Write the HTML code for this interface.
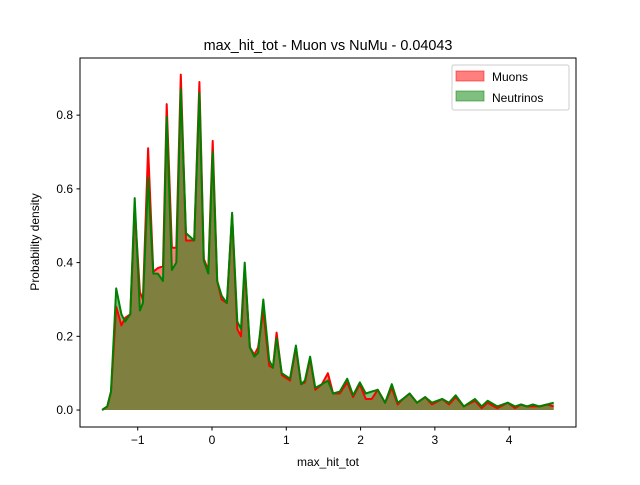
<!DOCTYPE html>
<html><head><meta charset="utf-8"><style>
body{margin:0;background:#fff}
svg{font-family:"Liberation Sans","DejaVu Sans",sans-serif}
</style></head><body>
<svg id="c" width="640" height="480" xmlns="http://www.w3.org/2000/svg"></svg>
<script>
const xs=[-1.48,-1.41,-1.36,-1.29,-1.22,-1.17,-1.10,-1.04,-0.97,-0.93,-0.86,-0.79,-0.73,-0.66,-0.61,-0.54,-0.48,-0.42,-0.35,-0.24,-0.17,-0.11,-0.05,0.01,0.07,0.13,0.20,0.27,0.34,0.39,0.44,0.51,0.57,0.62,0.69,0.77,0.82,0.87,0.94,1.05,1.13,1.20,1.25,1.32,1.39,1.48,1.56,1.63,1.72,1.82,1.90,1.99,2.07,2.15,2.23,2.33,2.42,2.50,2.57,2.66,2.76,2.87,2.96,3.10,3.19,3.28,3.39,3.54,3.63,3.71,3.84,3.98,4.08,4.16,4.24,4.32,4.41,4.51,4.60];
const muons=[0,.01,.05,.28,.23,.25,.26,.55,.32,.30,.71,.375,.385,.39,.83,.44,.44,.91,.46,.46,.89,.41,.38,.73,.35,.30,.29,.53,.22,.20,.39,.17,.15,.17,.27,.12,.115,.21,.095,.08,.17,.07,.075,.14,.055,.07,.10,.045,.045,.075,.035,.07,.03,.03,.055,.02,.06,.015,.03,.045,.02,.035,.015,.03,.015,.035,.01,.025,.005,.02,.005,.02,.005,.015,.01,.01,.01,.015,.01];
const neutrinos=[0,.01,.05,.33,.26,.24,.26,.575,.27,.29,.63,.37,.37,.35,.795,.38,.40,.87,.48,.46,.86,.405,.37,.70,.35,.31,.29,.535,.24,.22,.40,.17,.145,.155,.30,.135,.115,.195,.10,.085,.175,.07,.08,.145,.06,.07,.08,.045,.05,.085,.04,.075,.045,.05,.055,.02,.07,.02,.03,.045,.02,.035,.02,.03,.02,.04,.01,.03,.01,.025,.01,.02,.01,.015,.01,.015,.01,.015,.02];
const xTicks=[-1,0,1,2,3,4];
const yTicks=[0,0.2,0.4,0.6,0.8];
const L=80,R=576,T=58,B=427,x0=-1.777,x1=4.90,y0=-0.046,y1=0.955;
const X=v=>L+(v-x0)/(x1-x0)*(R-L);
const Y=v=>B-(v-y0)/(y1-y0)*(B-T);
const svg=document.getElementById('c');
function mk(t,a,txt){const e=document.createElementNS('http://www.w3.org/2000/svg',t);for(const k in a)e.setAttribute(k,a[k]);if(txt!==undefined)e.textContent=txt;svg.appendChild(e);return e;}
function series(vals,fill,stroke,name){
  let pts=xs.map((x,i)=>X(x).toFixed(1)+','+Y(vals[i]).toFixed(1));
  let a=mk('path',{d:'M'+X(xs[0])+','+Y(0)+' L'+pts.join(' L')+' L'+X(xs[xs.length-1])+','+Y(0)+'Z',fill:fill,stroke:'none'});
  
  
  return pts;
}
const pm=series(muons,'rgba(255,0,0,0.5)','red','muons');
const pn=series(neutrinos,'rgba(0,128,0,0.5)','green','neutrinos');
let l1=mk('polyline',{points:pm.join(' '),fill:'none',stroke:'red','stroke-width':2,'stroke-linejoin':'round'});


let l2=mk('polyline',{points:pn.join(' '),fill:'none',stroke:'green','stroke-width':2,'stroke-linejoin':'round'});


let fr=mk('rect',{x:L,y:T,width:R-L,height:B-T,fill:'none',stroke:'#000','stroke-width':1});


xTicks.forEach(v=>{const x=X(v);
  let t=mk('line',{x1:x,x2:x,y1:B,y2:B+3.5,stroke:'#000'});
  
  
  let s=mk('text',{x:x,y:B+17,'text-anchor':'middle','font-size':12},v<0?'\u2212'+(-v):String(v));
  
  });
yTicks.forEach(v=>{const y=Y(v);
  let t=mk('line',{x1:L-3.5,x2:L,y1:y,y2:y,stroke:'#000'});
  
  
  let s=mk('text',{x:L-7,y:y+4,'text-anchor':'end','font-size':12},v.toFixed(1));
  
  });
</script>
<svg style="position:absolute;left:0;top:0" width="640" height="480">
<text x="328" y="50" text-anchor="middle" font-size="14.4" font-family="Liberation Sans, sans-serif">max_hit_tot - Muon vs NuMu - 0.04043</text>
<text x="328" y="466" text-anchor="middle" font-size="12" font-family="Liberation Sans, sans-serif">max_hit_tot</text>
<text transform="translate(39,242) rotate(-90)" text-anchor="middle" font-size="12" font-family="Liberation Sans, sans-serif">Probability density</text>
<g>
<rect x="452" y="65" width="117" height="45" rx="2" fill="#fff" fill-opacity="0.8" stroke="#ccc"/>
<rect x="456" y="71" width="28" height="10" fill="rgba(255,0,0,0.5)" stroke="rgba(255,0,0,0.5)"/>
<text x="492" y="81" font-size="12" font-family="Liberation Sans, sans-serif">Muons</text>
<rect x="456" y="91" width="28" height="10" fill="rgba(0,128,0,0.5)" stroke="rgba(0,128,0,0.5)"/>
<text x="492" y="102" font-size="12" font-family="Liberation Sans, sans-serif">Neutrinos</text>
</g>
</svg>
</body></html>
